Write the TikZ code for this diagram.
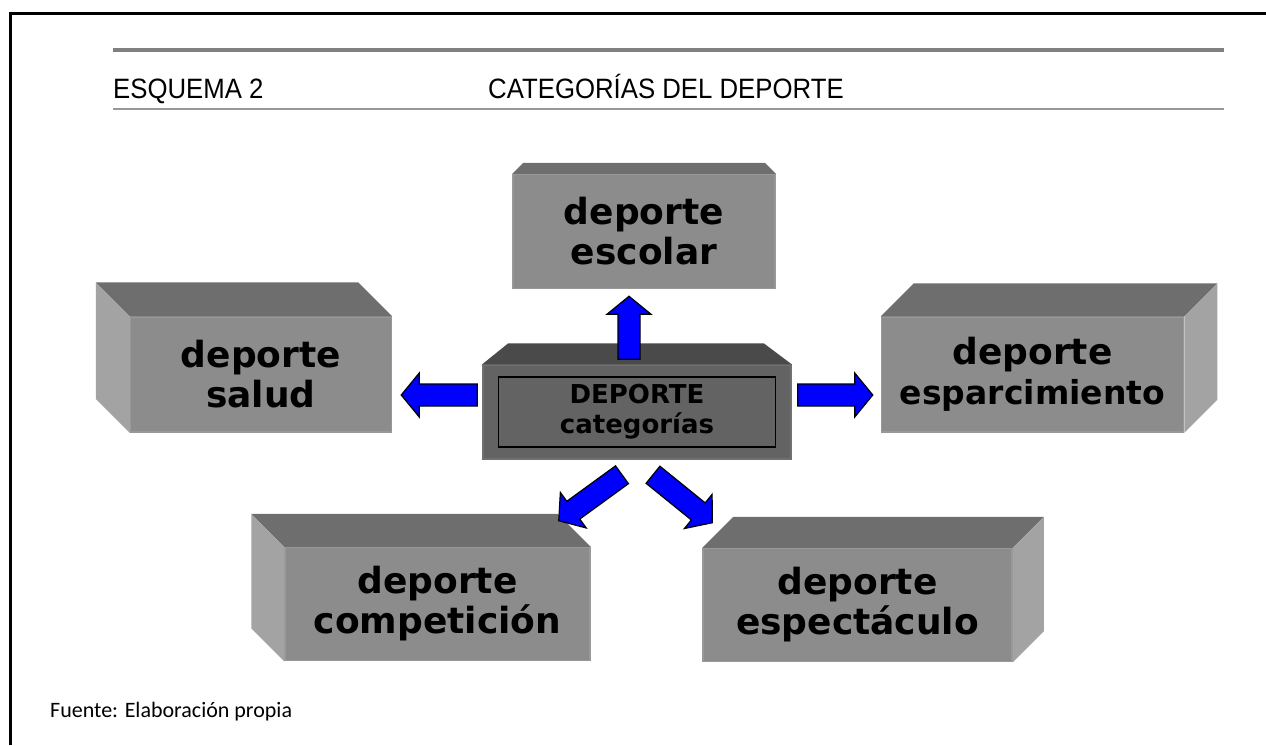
\documentclass[tikz,border=0pt]{standalone}
\usepackage{fontspec}
\usetikzlibrary{positioning, calc}

\newfontfamily\boxfont{DejaVu Sans}
\newfontfamily\headfont[FakeStretch=0.92]{Liberation Sans}
\newfontfamily\notefont{Carlito}

\definecolor{frontgray}{RGB}{140,140,140}
\definecolor{topgray}{RGB}{110,110,110}
\definecolor{sidegray}{RGB}{163,163,163}
\definecolor{edgegray}{RGB}{152,152,152}
\definecolor{ctrfront}{RGB}{99,99,99}
\definecolor{ctrtop}{RGB}{74,74,74}
\definecolor{ctredge}{RGB}{112,112,112}
\definecolor{arrowblue}{RGB}{0,0,255}

% block arrow from #1 (tail) to #2 (tip)
\newcommand{\blockarrow}[2]{%
  \coordinate (ba-s) at #1;
  \coordinate (ba-t) at #2;
  \coordinate (ba-n) at ($(ba-t)!18pt!(ba-s)$);
  \draw[bluearrow] ($(ba-s)!11pt!90:(ba-t)$) -- ($(ba-n)!11pt!90:(ba-t)$)
    -- ($(ba-n)!22pt!90:(ba-t)$) -- (ba-t) -- ($(ba-n)!22pt!-90:(ba-t)$)
    -- ($(ba-n)!11pt!-90:(ba-t)$) -- ($(ba-s)!11pt!-90:(ba-t)$) -- cycle;
}

\begin{document}
\begin{tikzpicture}[
    x=1pt, y=-1pt,
    cube/.style={draw=edgegray, line width=1.5pt, fill=frontgray, inner sep=0pt,
        align=center, font=\boxfont\bfseries\fontsize{36}{40}\selectfont},
    hub/.style={draw=ctredge, line width=1.5pt, fill=ctrfront, inner sep=0pt,
        minimum width=308pt, minimum height=94pt},
    topface/.style={fill=topgray},
    sideface/.style={fill=sidegray},
    bluearrow/.style={fill=arrowblue, draw=black, line width=1.2pt, line join=miter},
    headtext/.style={font=\headfont\fontsize{28}{32}\selectfont, anchor=base west, inner sep=0pt}
]
    \useasboundingbox (0,0) rectangle (1266,745);

    % Frame and header
    \draw[line width=3pt] (10,745) -- (10,13) -- (1266,13);
    \draw[line width=4pt, gray] (113,50) -- (1224,50);
    \draw[line width=2.5pt, edgegray] (113,109) -- (1224,109);
    \node[headtext] (esquema) at (113,98) {ESQUEMA 2};
    \node[headtext] (titulo) at (488,98) {CATEGORÍAS DEL DEPORTE};

    % Boxes
    \node[hub] (centre) at (637,412) {};
    \node[cube, minimum width=262pt, minimum height=114pt, above=75pt of centre, xshift=7pt]
        (escolar) {deporte\\escolar};
    \node[cube, minimum width=261pt, minimum height=115pt, left=90pt of centre, yshift=37.5pt]
        (salud) {deporte\\salud};
    \node[cube, minimum width=302pt, minimum height=115pt, right=89pt of centre, yshift=37.5pt]
        (ocio) {deporte\\{\fontsize{33}{40}\selectfont esparcimiento}};
    \node[cube, minimum width=305pt, minimum height=113pt, below=87pt of centre, xshift=-199.5pt]
        (compet) {deporte\\competición};
    \node[cube, minimum width=309pt, minimum height=113pt, below=88pt of centre, xshift=220.5pt]
        (espect) {deporte\\espectáculo};

    % Faces seen from the left
    \foreach \b/\off in {salud/34, compet/33} {
        \fill[topface] (\b.north west) -- ++(-\off,-\off) -- ([shift={(-\off,-\off)}]\b.north east)
            -- (\b.north east) -- cycle;
        \fill[sideface] (\b.north west) -- ++(-\off,-\off) -- ([shift={(-\off,-\off)}]\b.south west)
            -- (\b.south west) -- cycle;
    }
    % Faces seen from the right
    \foreach \b/\off in {ocio/33, espect/31} {
        \fill[topface] (\b.north east) -- ++(\off,-\off) -- ([shift={(\off,-\off)}]\b.north west)
            -- (\b.north west) -- cycle;
        \fill[sideface] (\b.north east) -- ++(\off,-\off) -- ([shift={(\off,-\off)}]\b.south east)
            -- (\b.south east) -- cycle;
    }
    % Faces seen from below
    \fill[topface] (escolar.north west) -- ++(11,-11) -- ([shift={(-11,-11)}]escolar.north east)
        -- (escolar.north east) -- cycle;
    \fill[ctrtop] (centre.north west) -- ++(26,-21) -- ([shift={(-28,-21)}]centre.north east)
        -- (centre.north east) -- cycle;

    % Inner label of the hub
    \node[draw=black, line width=1.5pt, minimum width=277pt, minimum height=70pt, inner sep=0pt,
        align=center, font=\boxfont\bfseries\fontsize{26}{30}\selectfont] (label) at (centre)
        {DEPORTE\\categorías};

    % Arrows
    \blockarrow{([shift={(-8,-5)}]centre.north)}{([shift={(-15,7)}]escolar.south)}
    \blockarrow{([shift={(-5,-17)}]centre.west)}{([shift={(9,20.5)}]salud.east)}
    \blockarrow{([shift={(6,-17)}]centre.east)}{([shift={(-8,20.5)}]ocio.west)}
    \blockarrow{([shift={(-15,15)}]centre.south)}{([shift={(-32,-26)}]compet.north east)}
    \blockarrow{([shift={(16,15)}]centre.south)}{([shift={(10,-25)}]espect.north west)}

    % Source
    \node[font=\notefont\fontsize{22}{26}\selectfont, anchor=base west, inner sep=0pt]
        (fuente) at (50,717) {Fuente: Elaboración propia};
\end{tikzpicture}
\end{document}
